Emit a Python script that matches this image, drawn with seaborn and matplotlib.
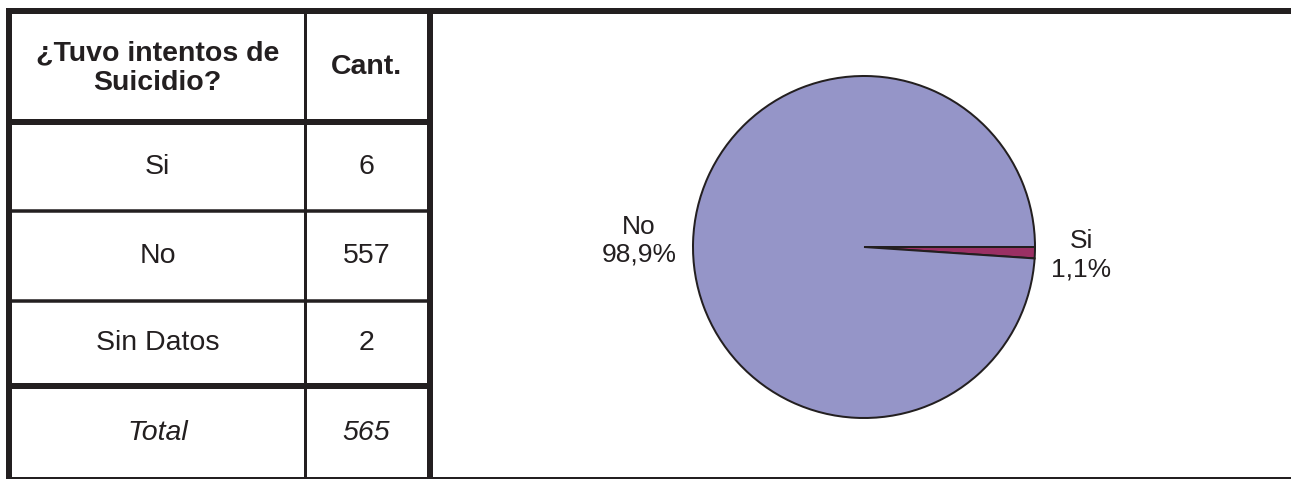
import matplotlib
matplotlib.use("Agg")
import matplotlib.pyplot as plt
import seaborn as sns
import numpy as np

# ---- data ----
header = ["¿Tuvo intentos de\nSuicidio?", "Cant."]
categories = ["Si", "No", "Sin Datos"]
counts = [6, 557, 2]
total_label = "Total"
total_value = 565
pie_labels = ["Si", "No"]
pie_values = [6, 557]
pie_colors = ["#9A3064", "#9595C8"]

sns.set_theme(style="white")
plt.rcParams['font.family'] = ['Liberation Sans', 'DejaVu Sans']

W, H = 1291, 479
DPI = 100
fig = plt.figure(figsize=(W / DPI, H / DPI), dpi=DPI)
fig.patch.set_facecolor("white")

ink = "#231F20"
PX = 72.0 / DPI  # points per pixel

# overlay axes in pixel coordinates
ov = fig.add_axes([0, 0, 1, 1])
ov.set_xlim(0, W)
ov.set_ylim(H, 0)
ov.axis("off")

def hline(y, x0, x1, w):
    ov.plot([x0, x1], [y, y], color=ink, lw=w * PX, solid_capstyle="butt", zorder=3)

def vline(x, y0, y1, w):
    ov.plot([x, x], [y0, y1], color=ink, lw=w * PX, solid_capstyle="butt", zorder=3)

# table geometry (pixels)
x_left, x_div, x_right = 9, 304.5, 430
y_top = 11
row_lines = [(122, 6), (211, 3.5), (301, 3.5), (386, 6)]
y_bot = 478

hline(y_top, 6, W, 6)
hline(y_bot, 6, W, 2)
vline(x_left, 8, H, 6)
vline(x_div, 13, H, 3)
vline(x_right, 8, H, 6)
for y, w in row_lines:
    hline(y, 6, 433, w)

c1 = (12 + 303) / 2
c2 = (306 + 427) / 2
fs = 20.5
ov.text(c1, 68, header[0], ha="center", va="center", fontsize=fs,
        fontweight="bold", color=ink, linespacing=1.2)
ov.text(c2, 67, header[1], ha="center", va="center", fontsize=fs,
        fontweight="bold", color=ink)

row_centers = [167.5, 256, 343]
for yc, cat, n in zip(row_centers, categories, counts):
    ov.text(c1, yc, cat, ha="center", va="center", fontsize=fs, color=ink)
    ov.text(c2, yc, str(n), ha="center", va="center", fontsize=fs, color=ink)
ov.text(c1, 433, total_label, ha="center", va="center", fontsize=fs,
        style="italic", color=ink)
ov.text(c2, 433, str(total_value), ha="center", va="center", fontsize=fs,
        style="italic", color=ink)

# pie axes
cx, cy, r = 864, 247, 171
pax = fig.add_axes([(cx - r) / W, (H - cy - r) / H, 2 * r / W, 2 * r / H])
wedges, _ = pax.pie(pie_values, colors=pie_colors, startangle=0,
                    counterclock=False,
                    wedgeprops=dict(edgecolor=ink, linewidth=2 * PX))
pax.set_xlim(-1, 1)
pax.set_ylim(-1, 1)
pax.set_aspect("equal")
pax.axis("off")

tot = sum(pie_values)
dists = [1.27, 1.316]
nudges = [-0.005, -0.009]
for wdg, lab, v, d, dy in zip(wedges, pie_labels, pie_values, dists, nudges):
    ang = np.deg2rad((wdg.theta1 + wdg.theta2) / 2)
    pct = f"{100 * v / tot:.1f}".replace(".", ",") + "%"
    pax.text(d * np.cos(ang), d * np.sin(ang) + dy, f"{lab}\n{pct}",
             ha="center", va="center", fontsize=19, color=ink,
             multialignment="center", linespacing=1.2, clip_on=False)

fig.savefig("out.png", dpi=DPI, facecolor="white")
